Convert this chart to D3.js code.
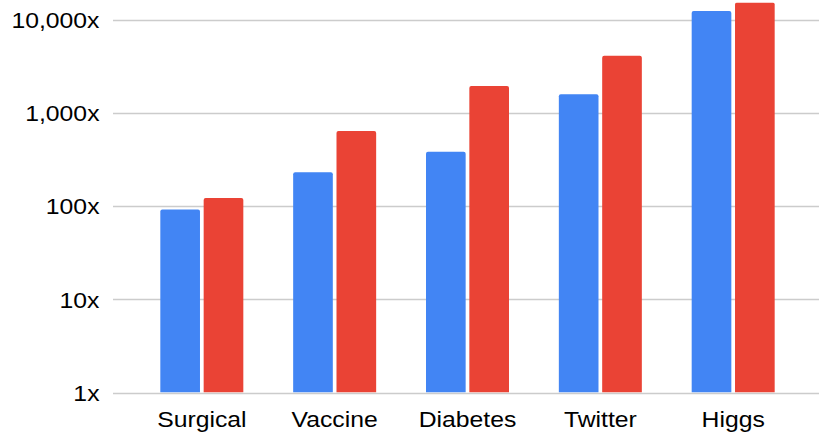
<!DOCTYPE html>
<html>
<head>
<meta charset="utf-8">
<script src="https://cdn.jsdelivr.net/npm/d3@7"></script>
<style>
  html, body { margin: 0; padding: 0; background: #fff; }
  svg { display: block; }
  text { font-family: "Liberation Sans", Arial, sans-serif; fill: #000; }
</style>
</head>
<body>
<svg id="chart" width="819" height="433"></svg>
<script>
// Speedup per dataset, two methods, log scale
const categories = ["Surgical", "Vaccine", "Diabetes", "Twitter", "Higgs"];
const seriesNames = ["blue", "red"];
const blueValues = [92, 230, 382, 1577, 12340];
const redValues = [122, 637, 1936, 4090, 15200];
const tickValues = [1, 10, 100, 1000, 10000];
const tickLabels = ["1x", "10x", "100x", "1,000x", "10,000x"];

const colors = { blue: "#4285F4", red: "#EA4335" };

const gridLeft = 113, gridRight = 819;
const plotTop = 2.5;

const svg = d3.select("#chart");

const y = d3.scaleLog().domain([1, 10000]).range([392.5, 19.5]);

const x0 = d3.scaleBand()
  .domain(categories)
  .range([135.4, 799.6])
  .paddingInner(0)
  .paddingOuter(0);

const groupWidth = 83;
const x1 = d3.scaleBand()
  .domain(seriesNames)
  .range([0, groupWidth])
  .paddingInner(0.085);

// gridlines
svg.append("g")
  .selectAll("line")
  .data(tickValues)
  .join("line")
  .attr("x1", gridLeft)
  .attr("x2", gridRight)
  .attr("y1", d => Math.round(y(d)) + 0.5)
  .attr("y2", d => Math.round(y(d)) + 0.5)
  .attr("stroke", "#cccccc")
  .attr("stroke-width", 1.3);

// y tick labels
const fs = 22.5, sx = 1.1;
svg.append("g")
  .selectAll("text")
  .data(tickValues)
  .join("text")
  .attr("transform", d => `translate(99.5,${y(d) + 8.3}) scale(${sx},1)`)
  .attr("text-anchor", "end")
  .attr("font-size", fs)
  .text((d, i) => tickLabels[i]);

// clip to plot area
svg.append("clipPath").attr("id", "plotclip")
  .append("rect")
  .attr("x", gridLeft).attr("y", plotTop)
  .attr("width", gridRight - gridLeft).attr("height", y(1) - plotTop);

const data = categories.map((c, i) => ({
  cat: c,
  vals: [
    { s: "blue", v: blueValues[i] },
    { s: "red", v: redValues[i] }
  ]
}));

const r = 2;
function barPath(x, yTop, w, yBottom) {
  return `M${x},${yBottom} V${yTop + r} Q${x},${yTop} ${x + r},${yTop} H${x + w - r} Q${x + w},${yTop} ${x + w},${yTop + r} V${yBottom} Z`;
}

const groups = svg.append("g").attr("clip-path", "url(#plotclip)")
  .selectAll("g")
  .data(data)
  .join("g")
  .attr("transform", d => `translate(${x0(d.cat) + (x0.bandwidth() - groupWidth) / 2},0)`);

groups.selectAll("path")
  .data(d => d.vals)
  .join("path")
  .attr("d", d => barPath(x1(d.s), y(d.v), x1.bandwidth(), y(1)))
  .attr("fill", d => colors[d.s]);

// x category labels
svg.append("g")
  .selectAll("text")
  .data(categories)
  .join("text")
  .attr("transform", d => `translate(${x0(d) + x0.bandwidth() / 2},426.5) scale(${sx},1)`)
  .attr("text-anchor", "middle")
  .attr("font-size", fs)
  .text(d => d);
</script>
</body>
</html>
